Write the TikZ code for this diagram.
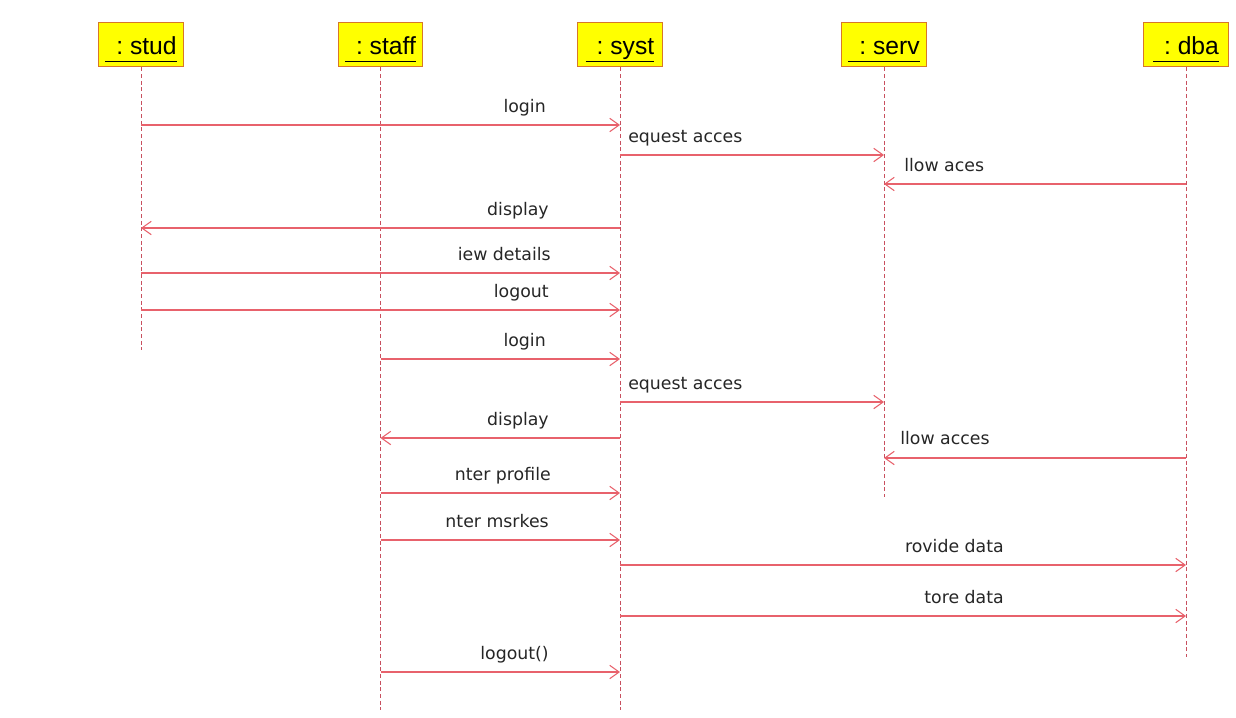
\documentclass[tikz,border=0pt]{standalone}
\usepackage{fontspec}
\setmainfont{DejaVu Sans}
\newfontfamily\hdrfont{Liberation Sans}
\usetikzlibrary{arrows.meta}
\definecolor{msgcol}{RGB}{232,98,108}
\definecolor{lifecol}{RGB}{200,80,95}
\definecolor{boxfill}{RGB}{255,255,0}
\definecolor{boxline}{RGB}{215,120,40}
\newcommand\msgarrow[5]{%
  \coordinate (#4s) at (#1 |- 0,#3);
  \coordinate (#4e) at (#2 |- 0,#3);
  \draw[msgline] (#4s) -- (#4e);
}
\newcommand\hdrtext[1]{\underline{\ \,:\ #1\vphantom{p}}}
\begin{document}
\begin{tikzpicture}[x=0.75pt,y=-0.75pt,
  hdrbox/.style={draw=boxline, fill=boxfill, line width=0.9pt, minimum width=63.5pt, minimum height=33.5pt, inner sep=0pt, text height=19pt, text depth=4pt, font=\hdrfont\fontsize{18.5}{20}\selectfont},
  lifeline/.style={draw=lifecol, line width=0.6pt, dash pattern=on 3pt off 2pt},
  msgline/.style={draw=msgcol, line width=0.8pt, -{Straight Barb[length=7pt,width=10pt,line width=0.8pt]}},
  msglabel/.style={font=\fontsize{13}{15}\selectfont, text=black!85, inner sep=0pt}]
\useasboundingbox (0,0) rectangle (1236,718);
\fill[white] (0,0) rectangle (1236,718);
% lifeline headers
\node[hdrbox] (stud)  at (141,44.5)  {\hdrtext{stud}};
\node[hdrbox] (staff) at (380.5,44.5) {\hdrtext{staff}};
\node[hdrbox] (syst)  at (620,44.5)  {\hdrtext{syst}};
\node[hdrbox] (serv)  at (884,44.5)  {\hdrtext{serv}};
\node[hdrbox] (dba)   at (1186,44.5) {\hdrtext{dba}};
% lifeline ends
\coordinate (studend)  at (141,350);
\coordinate (staffend) at (380.5,710);
\coordinate (systend)  at (620,710);
\coordinate (servend)  at (884,497);
\coordinate (dbaend)   at (1186,657);
\draw[lifeline] (stud.south)  -- (studend);
\draw[lifeline] (staff.south) -- (staffend);
\draw[lifeline] (syst.south)  -- (systend);
\draw[lifeline] (serv.south)  -- (servend);
\draw[lifeline] (dba.south)   -- (dbaend);
% messages
\msgarrow{stud}{syst}{125}{ma}{}
\msgarrow{syst}{serv}{155}{mb}{}
\msgarrow{dba}{serv}{184}{mc}{}
\msgarrow{syst}{stud}{228}{md}{}
\msgarrow{stud}{syst}{273}{me}{}
\msgarrow{stud}{syst}{310}{mf}{}
\msgarrow{staff}{syst}{359}{mg}{}
\msgarrow{syst}{serv}{402}{mh}{}
\msgarrow{syst}{staff}{438}{mi}{}
\msgarrow{dba}{serv}{458}{mj}{}
\msgarrow{staff}{syst}{493}{mk}{}
\msgarrow{staff}{syst}{540}{ml}{}
\msgarrow{syst}{dba}{565}{mm}{}
\msgarrow{syst}{dba}{616}{mn}{}
\msgarrow{staff}{syst}{672}{mo}{}
% labels
\node[msglabel, anchor=base east] (la) at (546,112) {login};
\node[msglabel, anchor=base west] (lb) at (628,142) {equest acces};
\node[msglabel, anchor=base west] (lc) at (904,171) {llow aces};
\node[msglabel, anchor=base east] (ld) at (549,215) {display};
\node[msglabel, anchor=base east] (le) at (551,260) {iew details};
\node[msglabel, anchor=base east] (lf) at (549,297) {logout};
\node[msglabel, anchor=base east] (lg) at (546,346) {login};
\node[msglabel, anchor=base west] (lh) at (628,389) {equest acces};
\node[msglabel, anchor=base east] (li) at (549,425) {display};
\node[msglabel, anchor=base west] (lj) at (900,444) {llow acces};
\node[msglabel, anchor=base east] (lk) at (551,480) {nter profile};
\node[msglabel, anchor=base east] (ll) at (549,527) {nter msrkes};
\node[msglabel, anchor=base east] (lm) at (1004,552) {rovide data};
\node[msglabel, anchor=base east] (ln) at (1004,603) {tore data};
\node[msglabel, anchor=base east] (lo) at (549,659) {logout()};
\end{tikzpicture}
\end{document}
